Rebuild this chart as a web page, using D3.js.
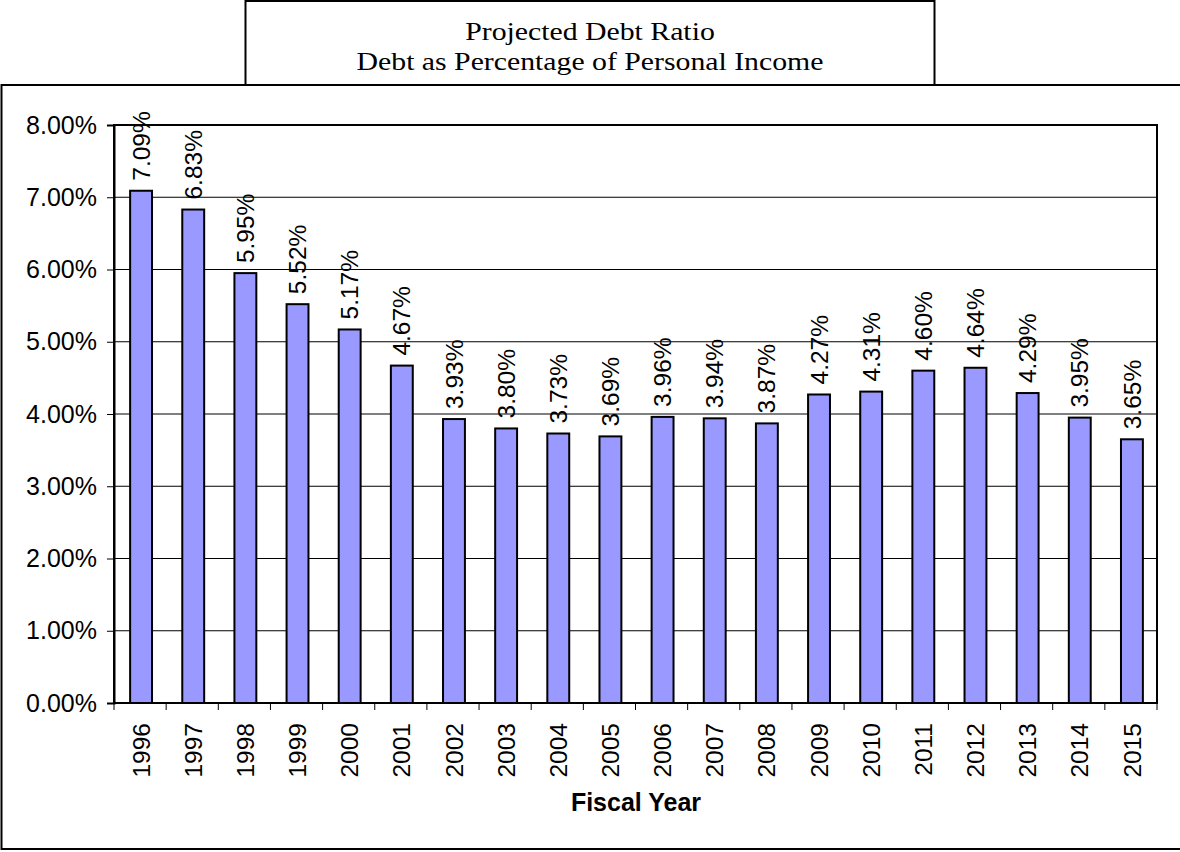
<!DOCTYPE html>
<html>
<head>
<meta charset="utf-8">
<script src="https://cdn.jsdelivr.net/npm/d3@7"></script>
<style>
  body { margin: 0; background: #fff; }
</style>
</head>
<body>
<div id="chart"></div>
<script>
var width = 1180,
  height = 852;

var years = ["1996", "1997", "1998", "1999", "2000", "2001", "2002", "2003", "2004", "2005",
  "2006", "2007", "2008", "2009", "2010", "2011", "2012", "2013", "2014", "2015"];
var ratios = [7.09, 6.83, 5.95, 5.52, 5.17, 4.67, 3.93, 3.80, 3.73, 3.69,
  3.96, 3.94, 3.87, 4.27, 4.31, 4.60, 4.64, 4.29, 3.95, 3.65];
var yTicks = [0, 1, 2, 3, 4, 5, 6, 7, 8];
var titleLines = ["Projected Debt Ratio", "Debt as Percentage of Personal Income"];
var xTitle = "Fiscal Year";

var plot = { left: 114, right: 1157, top: 125, bottom: 703 };
var sans = "'Liberation Sans', Arial, sans-serif";

var svg = d3.select("#chart").append("svg")
  .attr("width", width)
  .attr("height", height);

// outer chart frame
svg.append("rect")
  .attr("x", 1.5).attr("y", 85)
  .attr("width", 1190).attr("height", 764)
  .attr("fill", "none")
  .attr("stroke", "#000")
  .attr("stroke-width", 2);

// title box
svg.append("rect")
  .attr("x", 245.5).attr("y", 1)
  .attr("width", 689).attr("height", 84)
  .attr("fill", "#fff")
  .attr("stroke", "#000")
  .attr("stroke-width", 2);

// the title font in the picture is a wide Times, so stretch it sideways
svg.selectAll("text.title")
  .data(titleLines)
  .enter()
  .append("text")
  .attr("class", "title")
  .attr("transform", function (d, i) {
    return "translate(590," + (39.5 + i * 30.5) + ") scale(1.145,1)";
  })
  .attr("text-anchor", "middle")
  .attr("font-family", "'Liberation Serif', 'Times New Roman', serif")
  .attr("font-size", 26)
  .text(function (d) { return d; });

let x = d3.scaleBand()
  .domain(years)
  .range([plot.left, plot.right])
  .paddingInner(0.58)
  .paddingOuter(0.29);

let y = d3.scaleLinear()
  .domain([0, 8])
  .range([plot.bottom, plot.top]);

// gridlines
svg.append("g")
  .selectAll("line")
  .data(yTicks.slice(1, -1))
  .enter()
  .append("line")
  .attr("x1", plot.left).attr("x2", plot.right)
  .attr("y1", function (d) { return y(d); })
  .attr("y2", function (d) { return y(d); })
  .attr("stroke", "#000")
  .attr("stroke-width", 1);

// plot border
svg.append("rect")
  .attr("x", plot.left).attr("y", plot.top)
  .attr("width", plot.right - plot.left)
  .attr("height", plot.bottom - plot.top)
  .attr("fill", "none")
  .attr("stroke", "#000")
  .attr("stroke-width", 2);

// y axis
let yAxis = svg.append("g")
  .attr("transform", "translate(" + plot.left + ",0)")
  .call(d3.axisLeft(y)
    .tickValues(yTicks)
    .tickSize(7)
    .tickPadding(10)
    .tickFormat(function (d) { return d.toFixed(2) + "%"; }));
yAxis.select(".domain").attr("stroke-width", 2);
yAxis.selectAll(".tick line").attr("stroke-width", 1);
yAxis.selectAll("text")
  .attr("font-family", sans)
  .attr("font-size", 25)
  .attr("fill", "#000");

// bars
svg.selectAll("rect.bar")
  .data(ratios)
  .enter()
  .append("rect")
  .attr("class", "bar")
  .attr("x", function (d, i) { return x(years[i]) + 1; })
  .attr("y", function (d) { return y(d); })
  .attr("width", x.bandwidth())
  .attr("height", function (d) { return plot.bottom - y(d); })
  .attr("fill", "#9999FF")
  .attr("stroke", "#000")
  .attr("stroke-width", 2);

// value labels
svg.selectAll("text.val")
  .data(ratios)
  .enter()
  .append("text")
  .attr("class", "val")
  .attr("transform", function (d, i) {
    return "translate(" + (x(years[i]) + x.bandwidth() / 2 + 1) + "," + (y(d) - 10) + ") rotate(-90)";
  })
  .attr("dy", "0.35em")
  .attr("text-anchor", "start")
  .attr("font-family", sans)
  .attr("font-size", 24.5)
  .text(function (d) { return d.toFixed(2) + "%"; });

// x axis ticks at category boundaries
let step = x.step();
let bounds = d3.range(years.length + 1).map(function (i) { return plot.left + i * step; });
svg.append("g")
  .selectAll("line")
  .data(bounds)
  .enter()
  .append("line")
  .attr("x1", function (d) { return d; }).attr("x2", function (d) { return d; })
  .attr("y1", plot.bottom).attr("y2", plot.bottom + 7)
  .attr("stroke", "#000")
  .attr("stroke-width", 1);

svg.selectAll("text.year")
  .data(years)
  .enter()
  .append("text")
  .attr("class", "year")
  .attr("transform", function (d) {
    return "translate(" + (x(d) + x.bandwidth() / 2 + 1) + "," + 723 + ") rotate(-90)";
  })
  .attr("dy", "0.35em")
  .attr("text-anchor", "end")
  .attr("font-family", sans)
  .attr("font-size", 24.5)
  .text(function (d) { return d; });

svg.append("text")
  .attr("x", 636)
  .attr("y", 811)
  .attr("text-anchor", "middle")
  .attr("font-family", sans)
  .attr("font-size", 25)
  .attr("font-weight", "bold")
  .text(xTitle);
</script>
</body>
</html>
